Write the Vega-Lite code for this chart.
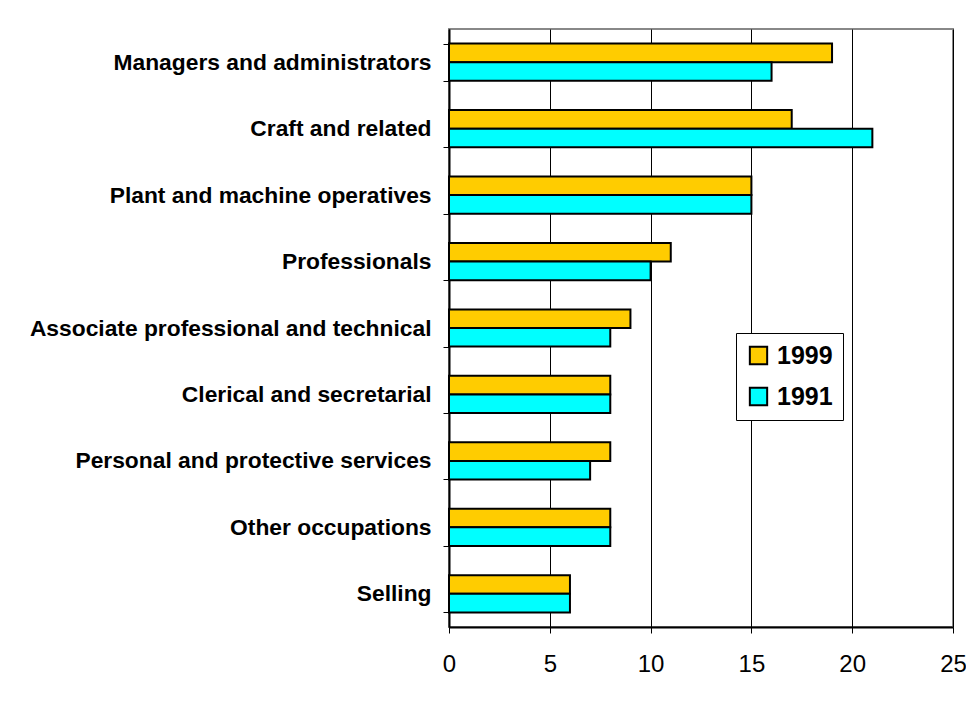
{
  "$schema": "https://vega.github.io/schema/vega-lite/v6.json",
  "width": 504,
  "height": 598,
  "autosize": "none",
  "padding": {"left": 449, "top": 29, "right": 13, "bottom": 77},
  "background": "white",
  "data": {
    "values": [
      {"occupation": "Managers and administrators", "year": "1999", "value": 19},
      {"occupation": "Managers and administrators", "year": "1991", "value": 16},
      {"occupation": "Craft and related", "year": "1999", "value": 17},
      {"occupation": "Craft and related", "year": "1991", "value": 21},
      {"occupation": "Plant and machine operatives", "year": "1999", "value": 15},
      {"occupation": "Plant and machine operatives", "year": "1991", "value": 15},
      {"occupation": "Professionals", "year": "1999", "value": 11},
      {"occupation": "Professionals", "year": "1991", "value": 10},
      {"occupation": "Associate professional and technical", "year": "1999", "value": 9},
      {"occupation": "Associate professional and technical", "year": "1991", "value": 8},
      {"occupation": "Clerical and secretarial", "year": "1999", "value": 8},
      {"occupation": "Clerical and secretarial", "year": "1991", "value": 8},
      {"occupation": "Personal and protective services", "year": "1999", "value": 8},
      {"occupation": "Personal and protective services", "year": "1991", "value": 7},
      {"occupation": "Other occupations", "year": "1999", "value": 8},
      {"occupation": "Other occupations", "year": "1991", "value": 8},
      {"occupation": "Selling", "year": "1999", "value": 6},
      {"occupation": "Selling", "year": "1991", "value": 6}
    ]
  },
  "mark": {"type": "bar", "stroke": "black", "strokeWidth": 2},
  "encoding": {
    "y": {
      "field": "occupation",
      "type": "nominal",
      "sort": null,
      "scale": {"paddingInner": 0.44, "paddingOuter": 0.22},
      "axis": {
        "title": null,
        "tickBand": "extent",
        "tickSize": 6,
        "tickColor": "black",
        "tickWidth": 1,
        "domainColor": "black",
        "domainWidth": 2,
        "labelFont": "Liberation Sans",
        "labelFontSize": 22.8,
        "labelFontWeight": "bold",
        "labelColor": "black",
        "labelPadding": 12,
        "labelLimit": 440,
        "grid": false
      }
    },
    "yOffset": {"field": "year", "type": "nominal", "sort": ["1999", "1991"], "scale": {"paddingInner": 0, "paddingOuter": 0}},
    "x": {
      "field": "value",
      "type": "quantitative",
      "scale": {"domain": [0, 25], "nice": false},
      "axis": {
        "title": null,
        "values": [0, 5, 10, 15, 20, 25],
        "tickSize": 6,
        "tickColor": "black",
        "tickWidth": 1,
        "domainColor": "black",
        "domainWidth": 2,
        "grid": true,
        "gridColor": "black",
        "gridWidth": 1,
        "gridOpacity": 1,
        "labelFont": "Liberation Sans",
        "labelFontSize": 24,
        "labelColor": "black",
        "labelPadding": 19,
        "labelFlush": false
      }
    },
    "fill": {
      "field": "year",
      "type": "nominal",
      "sort": ["1999", "1991"],
      "scale": {"domain": ["1999", "1991"], "range": ["#FFCC00", "#00FFFF"]},
      "legend": {
        "title": null,
        "orient": "none",
        "legendX": 287,
        "legendY": 304,
        "direction": "vertical",
        "symbolType": "square",
        "symbolSize": 300,
        "symbolStrokeColor": "black",
        "symbolStrokeWidth": 2,
        "labelFont": "Liberation Sans",
        "labelFontSize": 25,
        "labelFontWeight": "bold",
        "labelColor": "black",
        "labelOffset": 6,
        "rowPadding": 14,
        "padding": 10,
        "strokeColor": "black",
        "fillColor": "white"
      }
    }
  },
  "config": {
    "view": {"stroke": "#888888", "strokeWidth": 2}
  }
}
